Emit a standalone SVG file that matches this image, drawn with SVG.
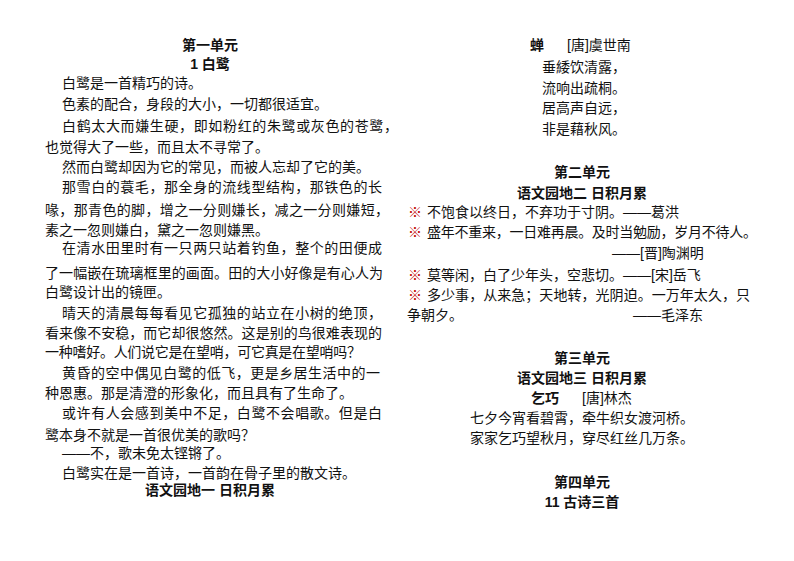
<svg xmlns="http://www.w3.org/2000/svg" width="794" height="561" viewBox="0 0 794 561">
<style>
text{font-family:"Liberation Sans","Noto Sans CJK SC",sans-serif;font-size:14px;fill:#111}
.b{font-weight:bold;font-size:14px}
.c{text-anchor:middle}
.r{fill:#c00000}
</style>
<rect width="794" height="561" fill="#fff"/>
<g id="left">
<text class="b c" x="210" y="50">第一单元</text>
<text class="b c" x="210" y="69">1  白鹭</text>
<text x="62" y="88">白鹭是一首精巧的诗。</text>
<text x="62" y="109">色素的配合，身段的大小，一切都很适宜。</text>
<text x="62" y="131" textLength="336">白鹤太大而嫌生硬，即如粉红的朱鹭或灰色的苍鹭，</text>
<text x="45" y="152">也觉得大了一些，而且太不寻常了。</text>
<text x="62" y="172">然而白鹭却因为它的常见，而被人忘却了它的美。</text>
<text x="62" y="192" textLength="320">那雪白的蓑毛，那全身的流线型结构，那铁色的长</text>
<text x="45" y="215" textLength="344">喙，那青色的脚，增之一分则嫌长，减之一分则嫌短，</text>
<text x="45" y="235">素之一忽则嫌白，黛之一忽则嫌黑。</text>
<text x="62" y="253" textLength="320">在清水田里时有一只两只站着钓鱼，整个的田便成</text>
<text x="45" y="278" textLength="338">了一幅嵌在琉璃框里的画面。田的大小好像是有心人为</text>
<text x="45" y="297">白鹭设计出的镜匣。</text>
<text x="62" y="318" textLength="320">晴天的清晨每每看见它孤独的站立在小树的绝顶，</text>
<text x="45" y="338" textLength="337">看来像不安稳，而它却很悠然。这是别的鸟很难表现的</text>
<text x="45" y="357" textLength="316">一种嗜好。人们说它是在望哨，可它真是在望哨吗？</text>
<text x="62" y="378" textLength="318">黄昏的空中偶见白鹭的低飞，更是乡居生活中的一</text>
<text x="45" y="398">种恩惠。那是清澄的形象化，而且具有了生命了。</text>
<text x="62" y="418" textLength="320">或许有人会感到美中不足，白鹭不会唱歌。但是白</text>
<text x="45" y="440">鹭本身不就是一首很优美的歌吗？</text>
<text x="62" y="458">——不，歌未免太铿锵了。</text>
<text x="62" y="478">白鹭实在是一首诗，一首韵在骨子里的散文诗。</text>
<text class="b c" x="210" y="495">语文园地一  日积月累</text>
</g>
<g id="right">
<text class="b" x="530" y="50">蝉</text>
<text x="567" y="50">[唐]虞世南</text>
<text x="542" y="72">垂緌饮清露，</text>
<text x="542" y="93">流响出疏桐。</text>
<text x="542" y="113">居高声自远，</text>
<text x="542" y="134">非是藉秋风。</text>
<text class="b c" x="582" y="177">第二单元</text>
<text class="b c" x="582" y="198">语文园地二  日积月累</text>
<text class="r" x="408" y="217">※</text>
<text x="427" y="217">不饱食以终日，不弃功于寸阴。——葛洪</text>
<text class="r" x="408" y="237">※</text>
<text x="427" y="237" textLength="330">盛年不重来，一日难再晨。及时当勉励，岁月不待人。</text>
<text x="612" y="258">——[晋]陶渊明</text>
<text class="r" x="408" y="280">※</text>
<text x="427" y="280">莫等闲，白了少年头，空悲切。——[宋]岳飞</text>
<text class="r" x="408" y="300">※</text>
<text x="427" y="300" textLength="323">多少事，从来急；天地转，光阴迫。一万年太久，只</text>
<text x="407" y="320">争朝夕。</text>
<text x="633" y="320">——毛泽东</text>
<text class="b c" x="582" y="363">第三单元</text>
<text class="b c" x="582" y="383">语文园地三  日积月累</text>
<text class="b" x="531" y="403">乞巧</text>
<text x="582" y="403">[唐]林杰</text>
<text class="c" x="582" y="423">七夕今宵看碧霄，牵牛织女渡河桥。</text>
<text class="c" x="582" y="443">家家乞巧望秋月，穿尽红丝几万条。</text>
<text class="b c" x="582" y="487">第四单元</text>
<text class="b c" x="582" y="507">11  古诗三首</text>
</g>
</svg>
